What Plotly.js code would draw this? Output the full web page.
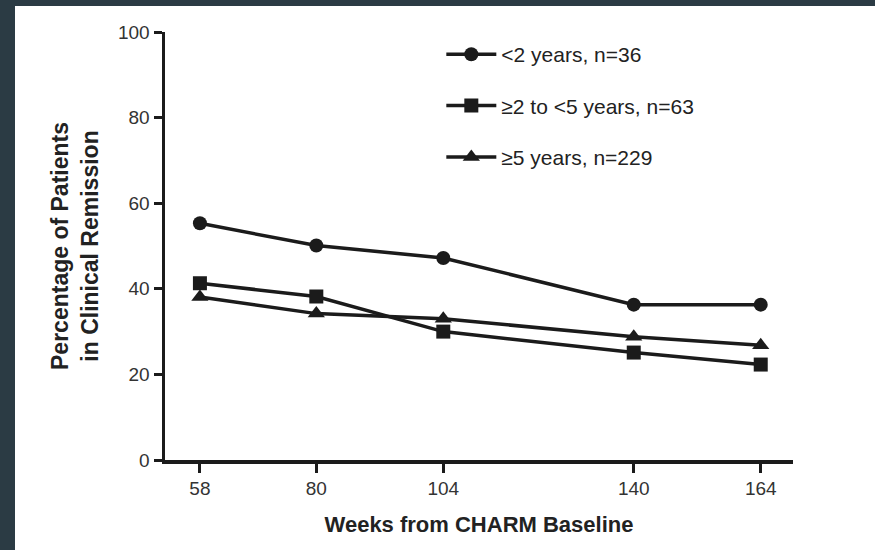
<!DOCTYPE html>
<html>
<head>
<meta charset="utf-8">
<script src="https://cdn.plot.ly/plotly-3.0.1.min.js"></script>
<style>
  html, body { margin: 0; padding: 0; background: #2b3b44; width: 875px; height: 550px; overflow: hidden; }
  #chart { position: absolute; left: 15px; top: 6px; width: 860px; height: 544px; background: #ffffff; }
</style>
</head>
<body>
<div id="chart"></div>
<script>
// Data
const weeks = [58, 80, 104, 140, 164];
const tickLabels = ["58", "80", "104", "140", "164"];
const seriesNames = ["<2 years, n=36", "\u22652 to <5 years, n=63", "\u22655 years, n=229"];
const lessThan2 = [55.3, 50.1, 47.2, 36.3, 36.3];
const twoToFive = [41.3, 38.2, 30.0, 25.1, 22.3];
const fivePlus = [38.1, 34.2, 33.0, 28.8, 26.8];
const symbols = ["circle", "square", "triangle-up"];

const FONT = "'Liberation Sans', Arial, Helvetica, sans-serif";
const INK = "#1b1b1b";

const allSeries = [lessThan2, twoToFive, fivePlus];
const traces = allSeries.map((vals, i) => ({
  x: weeks,
  y: vals,
  name: seriesNames[i],
  legendgroup: "g" + i,
  type: "scatter",
  mode: "lines+markers",
  line: { color: INK, width: 3.5 },
  marker: { symbol: symbols[i], size: i === 2 ? 15 : 14, color: INK },
  cliponaxis: false
}));

const layout = {
  width: 860,
  height: 544,
  paper_bgcolor: "#ffffff",
  plot_bgcolor: "#ffffff",
  margin: { l: 150, r: 82, t: 26, b: 90 },
  font: { family: FONT, color: "#2a2a2a", size: 16 },
  showlegend: true,
  legend: {
    x: 0.44, y: 0.995, xanchor: "left", yanchor: "top",
    font: { family: FONT, size: 21, color: "#222" },
    itemwidth: 50,
    tracegroupgap: 21,
    traceorder: "grouped",
    bgcolor: "rgba(0,0,0,0)"
  },
  xaxis: {
    range: [51.4, 170.1],
    tickvals: weeks,
    ticktext: tickLabels,
    showline: true, linecolor: INK, linewidth: 3.5,
    ticks: "outside", ticklen: 9, tickwidth: 3, tickcolor: INK,
    showgrid: false, zeroline: false,
    tickfont: { family: FONT, size: 19, color: "#333" },
    title: { text: "Weeks from CHARM Baseline", font: { family: FONT, size: 22, weight: "bold", color: "#222" }, standoff: 19 }
  },
  yaxis: {
    range: [0, 100],
    tickvals: [0, 20, 40, 60, 80, 100],
    showline: true, linecolor: INK, linewidth: 3.5,
    ticks: "outside", ticklen: 8, tickwidth: 3, tickcolor: INK,
    showgrid: false, zeroline: false,
    tickfont: { family: FONT, size: 19, color: "#333" },
    title: { text: "Percentage of Patients<br>in Clinical Remission", font: { family: FONT, size: 23, weight: "bold", color: "#222" }, standoff: 14 }
  }
};

Plotly.newPlot("chart", traces, layout, { displayModeBar: false, staticPlot: true });
</script>
</body>
</html>
